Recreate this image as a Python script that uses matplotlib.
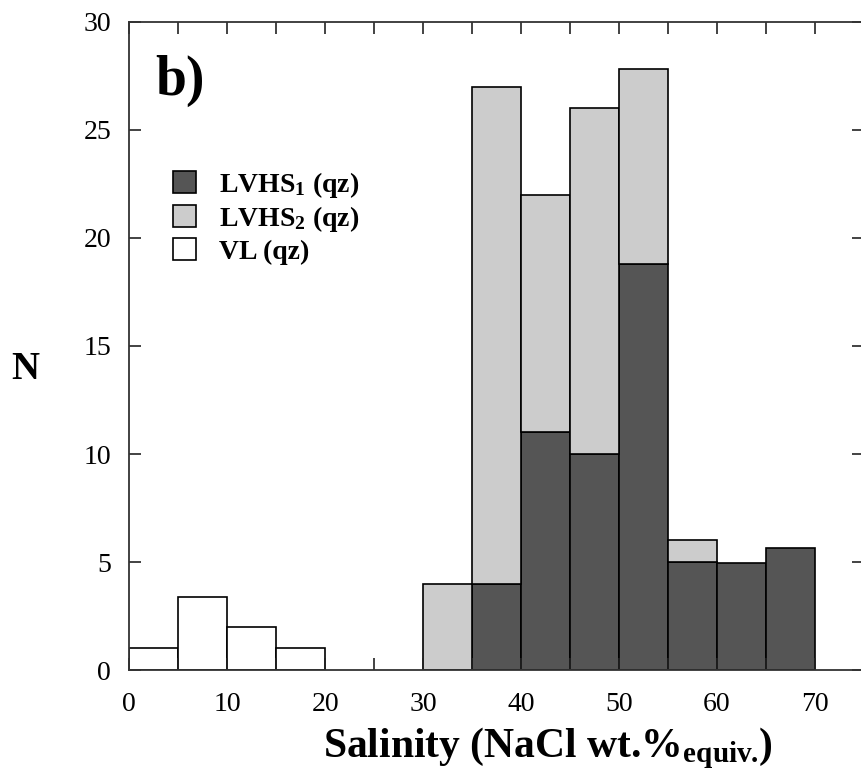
import matplotlib
matplotlib.use('Agg')
import matplotlib.pyplot as plt
from matplotlib.patches import Patch

# bin left edges (salinity, wt.% NaCl equiv.), bin width 5
vl_bins = [0, 5, 10, 15]
vl_counts = [1, 3.4, 2, 1]

hs_bins = [30, 35, 40, 45, 50, 55, 60, 65]
lvhs1_counts = [0, 4, 11, 10, 18.8, 5, 4.95, 5.65]
lvhs2_counts = [4, 23, 11, 16, 9, 1, 0, 0]   # stacked on top of LVHS1

bin_width = 5
dark = '#555555'
light = '#cccccc'

plt.rcParams['font.family'] = 'Liberation Serif'
plt.rcParams['mathtext.fontset'] = 'custom'
plt.rcParams['mathtext.rm'] = 'Liberation Serif:bold'
plt.rcParams['mathtext.bf'] = 'Liberation Serif:bold'
plt.rcParams['mathtext.it'] = 'Liberation Serif:bold'


def main():
    fig = plt.figure(figsize=(8.61, 7.82), dpi=100)
    ax = fig.add_axes([0.150, 0.1432, 0.8535, 0.8287])

    edge = dict(edgecolor='black', linewidth=1.2, align='edge', width=bin_width)

    # VL (white)
    ax.bar(vl_bins, vl_counts, color='white', **edge)

    # LVHS1 (dark) at the bottom
    x1 = [b for b, c in zip(hs_bins, lvhs1_counts) if c > 0]
    y1 = [c for c in lvhs1_counts if c > 0]
    ax.bar(x1, y1, color=dark, **edge)

    # LVHS2 (light) stacked on LVHS1
    x2, y2, b2 = [], [], []
    for b, c1, c2 in zip(hs_bins, lvhs1_counts, lvhs2_counts):
        if c2 > 0:
            x2.append(b)
            y2.append(c2)
            b2.append(c1)
    ax.bar(x2, y2, bottom=b2, color=light, **edge)

    ax.set_xlim(0, 75)
    ax.set_ylim(0, 30)
    ax.set_xticks(range(0, 80, 10))
    ax.set_xticks(range(0, 80, 5), minor=True)
    ax.set_yticks(range(0, 35, 5))

    ax.tick_params(which='both', direction='in', top=True, right=True,
                   length=8.5, width=1.2, color='#222222')
    ax.tick_params(axis='x', which='major', labelsize=20, pad=16)
    ax.tick_params(axis='y', which='major', labelsize=20, pad=13)
    for s in ax.spines.values():
        s.set_linewidth(1.3)
        s.set_color('#333333')

    ax.set_xlabel(r'Salinity (NaCl wt.%$_{\mathbf{equiv.}}\!$)',
                  fontsize=30, fontweight='bold', va='top')
    ax.xaxis.set_label_coords(0.569, -0.085)
    ax.set_ylabel('N', fontsize=28, fontweight='bold', rotation=0,
                  ha='center', va='center')
    ax.yaxis.set_label_coords(-0.1415, 0.463)

    ax.text(0.035, 0.887, 'b)', transform=ax.transAxes, fontsize=40,
            fontweight='bold', va='baseline', ha='left')

    handles = [Patch(facecolor=dark, edgecolor='black', linewidth=1.2),
               Patch(facecolor=light, edgecolor='black', linewidth=1.2),
               Patch(facecolor='white', edgecolor='black', linewidth=1.2)]
    labels = [r'LVHS$_1$ (qz)', r'LVHS$_2$ (qz)', 'VL (qz)']
    ax.legend(handles, labels, loc='upper left',
              bbox_to_anchor=(0.045, 0.789), frameon=False,
              prop={'family': 'Liberation Serif', 'weight': 'bold', 'size': 20},
              handlelength=0.83, handleheight=0.83, handletextpad=0.8,
              labelspacing=0.15, borderaxespad=0)

    fig.savefig('out.png', dpi=100)


if __name__ == '__main__':
    main()
